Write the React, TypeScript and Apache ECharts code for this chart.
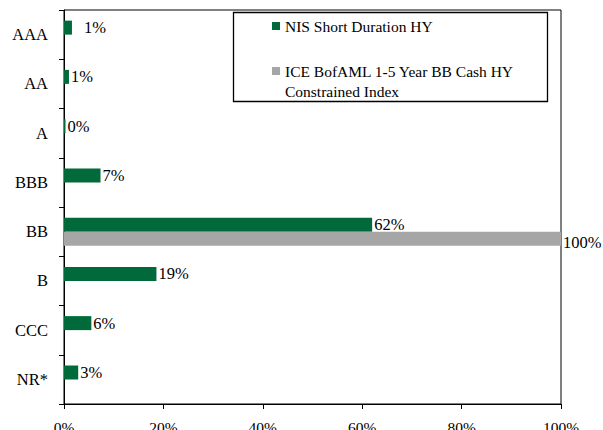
import React, { useEffect, useRef } from "react";
import * as echarts from "echarts";

const categories = ["AAA", "AA", "A", "BBB", "BB", "B", "CCC", "NR*"];
const nisValues = [1.6, 1.0, 0.3, 7.35, 62.0, 18.6, 5.5, 2.85];
const nisLabels = ["1%", "1%", "0%", "7%", "62%", "19%", "6%", "3%"];
const indexValues: (number | null)[] = [null, null, null, null, 100, null, null, null];
const indexLabels = ["", "", "", "", "100%", "", "", ""];
const seriesNames = ["NIS Short Duration HY", "ICE BofAML 1-5 Year BB Cash HY"];
const legendContinuation = "Constrained Index";
const xTicks = [0, 20, 40, 60, 80, 100];

const FONT = "Liberation Serif";

export default function App() {
  const ref = useRef<HTMLDivElement>(null);
  useEffect(() => {
    if (!ref.current) return;
    const chart = echarts.init(ref.current, undefined, { renderer: "svg" });
    chart.setOption({
      animation: false,
      textStyle: { fontFamily: FONT, color: "#000" },
      grid: {
        left: 64,
        right: 42,
        top: 10,
        bottom: 26,
        show: true,
        borderColor: "#000",
        borderWidth: 1,
        containLabel: false,
        outerBoundsMode: "none",
      },
      xAxis: {
        type: "value",
        min: xTicks[0],
        max: xTicks[xTicks.length - 1],
        interval: 20,
        axisLine: { show: true, lineStyle: { color: "#000", width: 1 } },
        axisTick: { show: true, inside: false, length: 5, lineStyle: { color: "#000" } },
        splitLine: { show: false },
        axisLabel: {
          formatter: "{value}%",
          fontFamily: FONT,
          fontSize: 15.5,
          color: "#000",
          margin: 15,
        },
      },
      yAxis: {
        type: "category",
        data: categories,
        inverse: true,
        axisLine: { show: true, lineStyle: { color: "#000", width: 1 } },
        axisTick: { show: true, inside: false, length: 5, alignWithLabel: false, lineStyle: { color: "#000" } },
        axisLabel: { fontFamily: FONT, fontSize: 16.5, color: "#000", margin: 16 },
      },
      legend: {
        orient: "vertical",
        left: 272,
        top: 18,
        itemWidth: 8,
        itemHeight: 8,
        itemGap: 29,
        icon: "rect",
        padding: 0,
        z: 10,
        data: seriesNames,
        textStyle: { fontFamily: FONT, fontSize: 15.5, color: "#000" },
      },
      graphic: [
        {
          type: "rect",
          z: 5,
          shape: { x: 233.5, y: 12.5, width: 314, height: 89 },
          style: { fill: "#fff", stroke: "#000", lineWidth: 1.3 },
        },
        {
          type: "text",
          z: 11,
          x: 285,
          y: 91,
          style: {
            text: legendContinuation,
            fontFamily: FONT,
            fontSize: 15.5,
            fill: "#000",
            verticalAlign: "middle",
          },
        },
      ],
      series: [
        {
          name: seriesNames[0],
          type: "bar",
          barWidth: 14,
          barGap: "0%",
          itemStyle: { color: "#006A3A" },
          data: nisValues.map((v, i) => ({
            value: v,
            label: { distance: i === 0 ? 12 : 2 },
          })),
          label: {
            show: true,
            position: "right",
            fontFamily: FONT,
            fontSize: 16.5,
            color: "#000",
            formatter: (p: any) => nisLabels[p.dataIndex],
          },
        },
        {
          name: seriesNames[1],
          type: "bar",
          barWidth: 14,
          barGap: "0%",
          itemStyle: { color: "#A6A6A6" },
          data: indexValues.map((v) => (v === null ? "-" : v)),
          label: {
            show: true,
            position: "right",
            distance: 2,
            offset: [0, 4],
            fontFamily: FONT,
            fontSize: 16.5,
            color: "#000",
            formatter: (p: any) => indexLabels[p.dataIndex],
          },
        },
      ],
    });
    return () => chart.dispose();
  }, []);
  return <div ref={ref} style={{ width: 603, height: 430, position: "absolute", left: 0, top: 0 }} />;
}
